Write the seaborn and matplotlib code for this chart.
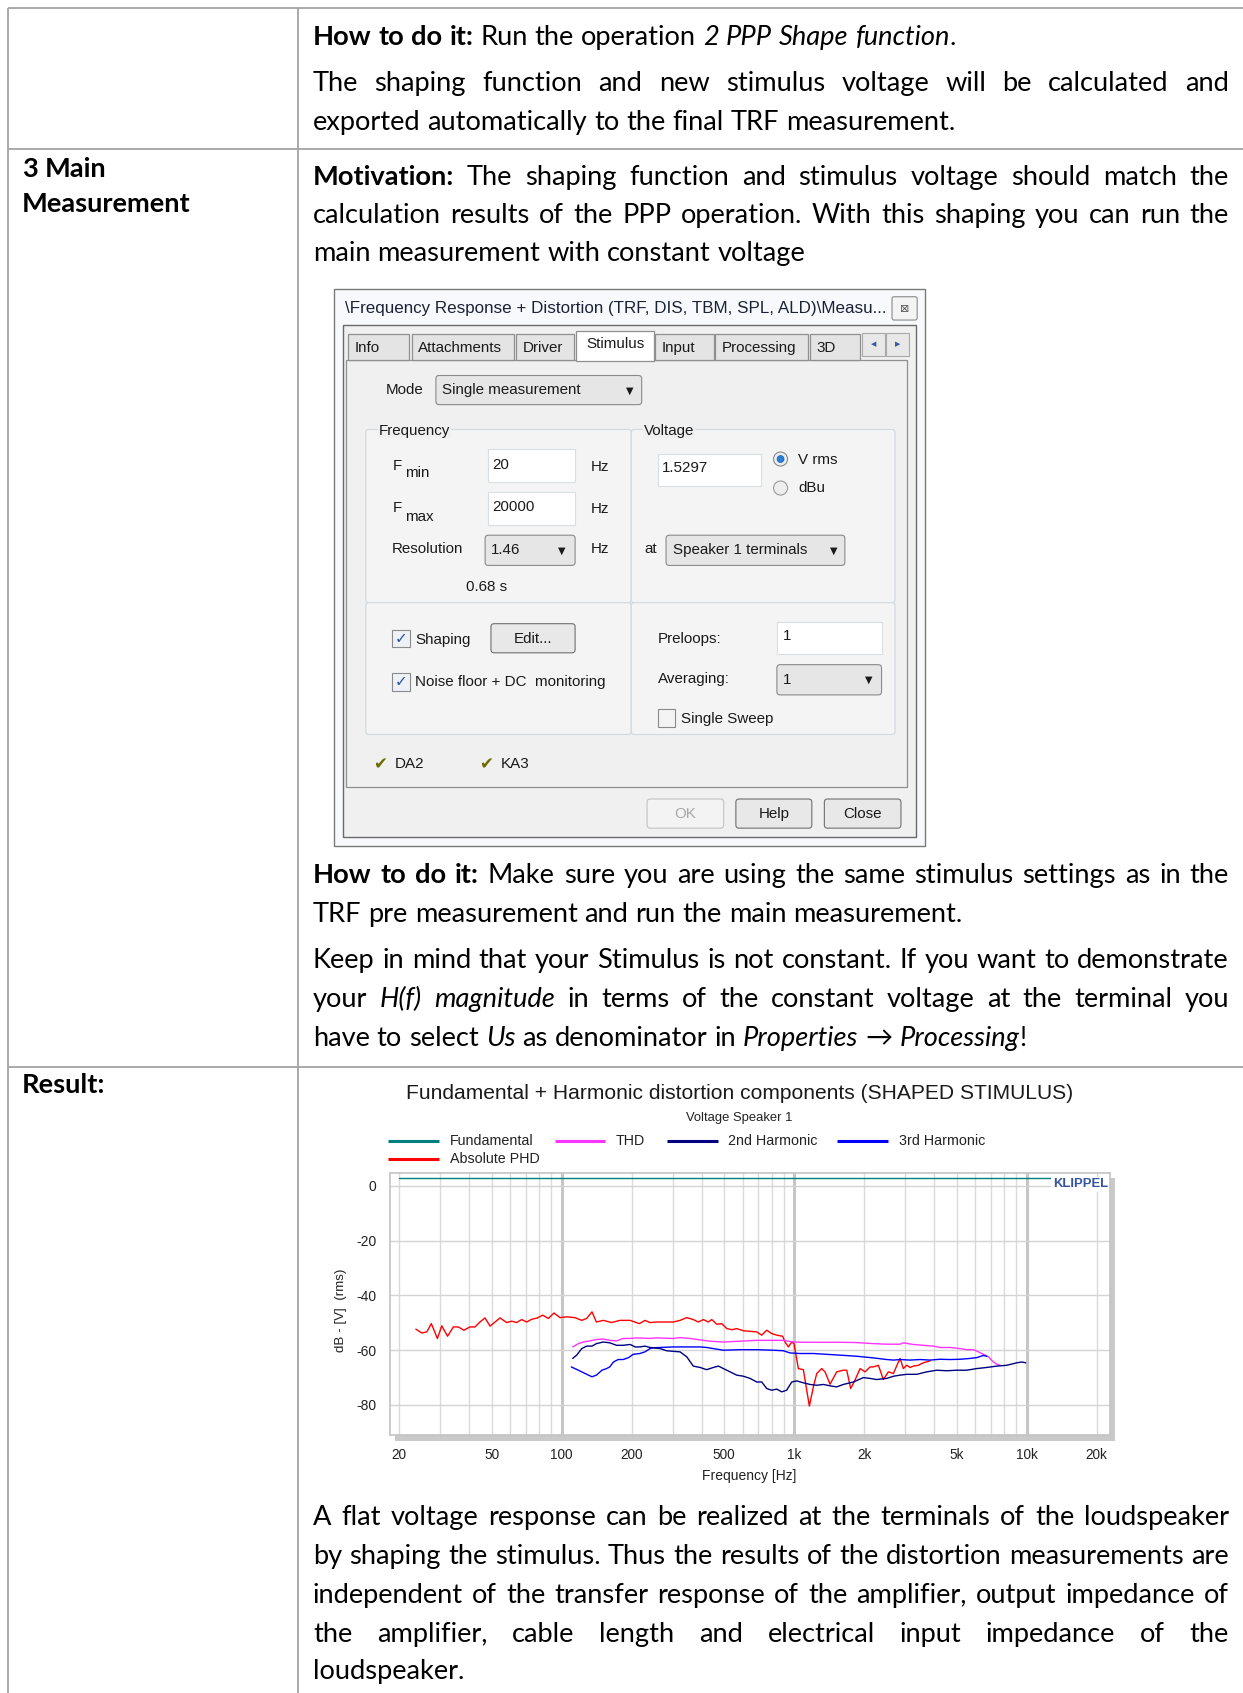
import matplotlib
matplotlib.use('Agg')
import matplotlib.pyplot as plt
import matplotlib.transforms as mtransforms
from matplotlib.patches import Rectangle, FancyBboxPatch, Circle
from matplotlib.ticker import FixedLocator, MultipleLocator, NullFormatter
import numpy as np
import pandas as pd
import seaborn as sns

sns.set_style('white')
plt.rcParams['font.family'] = ['Liberation Sans', 'DejaVu Sans']

# page is laid out in layout units (1152 x 1569), rendered at 1243 x 1693 px
PAGE_W, PAGE_H = 1152, 1569
SCALE = 1243 / PAGE_W

# ---------------- chart data ----------------
series_names = ['Fundamental', 'Absolute PHD', 'THD', '3rd Harmonic', '2nd Harmonic']
series_colors = ['#008080', '#ff0000', '#ff33ff', '#0000ff', '#000080']

fund_freq = [20, 20000]
fund_db = [2.8, 2.8]

phd_freq = [23.6, 25.0, 26.3, 27.5, 29.2, 30.5, 32.3, 34.2, 35.9, 38.0, 40.3, 42.4, 44.5,
            46.8, 49.2, 51.7, 54.3, 58.0, 61.0, 64.0, 67.3, 70.7, 74.3, 78.1, 82.9, 87.6,
            92.7, 98.4, 105, 114, 122, 128, 135, 141, 151, 164, 178, 197, 216, 228, 240,
            256, 283, 302, 323, 345, 368, 387, 407, 427, 442, 464, 488, 513, 539, 566, 605,
            646, 690, 725, 762, 800, 841, 892, 913, 944, 976, 998, 1042, 1095, 1132, 1162,
            1209, 1250, 1313, 1357, 1426, 1523, 1627, 1682, 1750, 1826, 1920, 2017, 2120,
            2190, 2301, 2418, 2541, 2670, 2806, 2853, 2948, 3047, 3149, 3254, 3420, 3594, 3839]
phd_db = [-52.3, -53.7, -53.3, -50.3, -55.7, -51.1, -54.9, -51.5, -51.5, -52.7, -51.5, -51.5, -49.7,
          -48.2, -51.2, -49.7, -48.2, -49.9, -49.4, -49.9, -48.8, -49.7, -48.7, -48.3, -47.2, -48.4,
          -46.4, -48.1, -47.8, -48.1, -49.1, -48.4, -46.0, -49.7, -49.1, -49.9, -49.1, -49.1, -50.3, -49.1, -49.9,
          -49.7, -49.7, -49.7, -49.1, -48.1, -48.8, -49.7, -48.8, -49.7, -48.8, -50.5, -50.3, -52.1, -52.5, -52.1, -52.9,
          -53.1, -53.3, -54.5, -52.7, -53.9, -54.5, -54.9, -57.0, -58.8, -57.0, -57.6, -66.7, -67.1, -74.6, -80.4,
          -73.4, -68.5, -66.7, -67.9, -72.4, -67.9, -67.3, -67.3, -74.0, -70.9, -66.7, -67.9, -66.1,
          -66.1, -65.5, -70.7, -67.9, -68.5, -64.3, -63.0, -66.7, -65.5, -66.3, -65.8, -65.5, -64.6, -63.9]

thd_freq = [111.5, 118, 124, 132, 141, 151, 161, 172, 184, 197, 210, 225, 240,
            256, 302, 323, 356, 407, 434, 496, 585, 690, 814, 898, 992, 1132, 1335, 1574, 1857,
            2190, 2500, 2853, 2948, 3254, 3594, 3967, 4239, 4680, 5168, 5520, 5898, 6197, 6511,
            6842, 7188, 7430, 7679]
thd_db = [-58.8, -57.6, -57.0, -56.6, -56.1, -55.9, -56.4, -56.6, -55.7, -55.7, -55.5, -55.6, -55.7,
          -55.5, -55.7, -55.4, -55.7, -56.4, -56.7, -57.0, -56.7, -56.4, -56.4, -56.4, -57.0, -57.1, -57.1, -57.1, -57.2,
          -57.6, -57.8, -57.8, -57.3, -57.9, -58.2, -58.5, -59.0, -59.0, -59.4, -59.8, -59.8, -60.6, -61.5,
          -62.4, -64.3, -65.1, -65.5]

h2_freq = [111.5, 116, 122, 128, 135, 141, 151, 161, 172, 184, 197, 207, 217, 228, 240,
           265, 283, 302, 323, 345, 368, 394, 420, 449, 472, 496, 530, 566, 605, 646, 690, 725,
           762, 800, 841, 884, 928, 976, 1025, 1095, 1170, 1250, 1335, 1426, 1523, 1627, 1797,
           1984, 2120, 2263, 2500, 2670, 2853, 3047, 3365, 3715, 4102, 4529, 5000, 5520, 6095,
           6730, 7430, 8203, 9057, 9517, 9901]
h2_db = [-63.0, -61.8, -59.4, -58.5, -58.5, -57.6, -57.0, -57.3, -58.2, -58.2, -57.9, -58.8, -58.8, -58.5, -59.0,
         -59.4, -60.2, -60.4, -60.6, -62.4, -65.8, -66.3, -67.1, -66.3, -65.8, -66.7, -67.9, -69.1, -69.5, -70.3, -71.6, -71.6,
         -74.0, -74.6, -74.2, -75.2, -74.6, -71.6, -71.2, -71.9, -72.5, -72.8, -72.5, -73.0, -73.4, -72.5, -71.6,
         -70.0, -70.3, -70.7, -70.3, -69.5, -69.1, -68.8, -68.8, -67.9, -67.3, -67.5, -67.3, -67.3, -66.7,
         -66.3, -65.8, -65.5, -64.6, -64.3, -64.6]

h3_freq = [110, 118, 126, 135, 141, 149, 156, 161, 167, 175, 184, 194, 203, 217, 228, 236, 240,
           248, 265, 302, 345, 394, 420, 449, 496, 585, 690, 814, 898, 960, 1060, 1209, 1380, 1574,
           1857, 2190, 2500, 2670, 2853, 3149, 3477, 3839, 4239, 4680, 5168, 5706, 6095, 6511, 6730]
h3_db = [-66.1, -67.3, -68.5, -69.7, -69.1, -67.3, -66.7, -66.1, -64.3, -63.4, -63.4, -62.7, -61.5, -61.2, -60.6, -59.8, -59.4,
         -59.1, -59.0, -58.8, -58.8, -58.8, -59.0, -59.4, -60.0, -59.8, -59.8, -60.0, -60.2, -61.0, -61.2, -61.2, -61.5, -61.8,
         -62.2, -62.8, -63.4, -63.6, -63.4, -63.6, -63.4, -63.6, -63.3, -63.4, -63.3, -63.0, -62.7, -61.9, -62.2]

xtick_vals = [20, 50, 100, 200, 500, 1000, 2000, 5000, 10000, 20000]
xtick_labels = ['20', '50', '100', '200', '500', '1k', '2k', '5k', '10k', '20k']
ytick_vals = [0, -20, -40, -60, -80]

chart_title = 'Fundamental + Harmonic distortion components (SHAPED STIMULUS)'
chart_subtitle = 'Voltage Speaker 1'

# ---------------- figure ----------------
fig = plt.figure(figsize=(12.43, 16.93), dpi=100)
ov = fig.add_axes([0, 0, 1, 1])
ov.set_xlim(0, PAGE_W)
ov.set_ylim(PAGE_H, 0)
ov.axis('off')
renderer = fig.canvas.get_renderer()


def frac(x0, y0, x1, y1):
    return [x0 / PAGE_W, 1 - y1 / PAGE_H, (x1 - x0) / PAGE_W, (y1 - y0) / PAGE_H]


def width_of(s, **kw):
    t = ov.text(0, 0, s, **kw)
    w = t.get_window_extent(renderer).width / SCALE
    t.remove()
    return w


def fit_size(s, target, **kw):
    return 10 * target / width_of(s, fontsize=10, **kw)


# ---------------- table grid ----------------
line_kw = dict(color='#a3a3a3', lw=1.3, solid_capstyle='butt')
ov.plot([7, PAGE_W], [7.7, 7.7], **line_kw)
ov.plot([7, PAGE_W], [138.4, 138.4], **line_kw)
ov.plot([7, PAGE_W], [989, 989], **line_kw)
ov.plot([7.3, 7.3], [7.7, PAGE_H], **line_kw)
ov.plot([276, 276], [7.7, PAGE_H], **line_kw)

# ---------------- body text ----------------
BODY_FAMILY = ['Lato', 'DejaVu Sans']
BODY_FS = fit_size('main measurement with constant voltage', 457.8, family=BODY_FAMILY)
BODY = {
    'n': dict(family=BODY_FAMILY, fontsize=BODY_FS),
    'b': dict(family=BODY_FAMILY, fontsize=BODY_FS, fontweight='bold'),
    'i': dict(family=BODY_FAMILY, fontsize=BODY_FS, fontstyle='italic'),
}
SPACE_W = width_of('a a', **BODY['n']) - width_of('aa', **BODY['n'])
TXT_L, TXT_R = 290, 1139


def put_line(y, parts, justify=False, x0=TXT_L, x1=TXT_R):
    groups = []
    prev_space = True
    for text, st in parts:
        words = text.split()
        for k, w in enumerate(words):
            if k == 0 and not text[0].isspace() and not prev_space and groups:
                groups[-1].append((w, st))
            else:
                groups.append([(w, st)])
        prev_space = text[-1].isspace()
    widths = [[width_of(w, **BODY[st]) for w, st in g] for g in groups]
    total = sum(sum(ws) for ws in widths)
    gap = (x1 - x0 - total) / (len(groups) - 1) if justify else SPACE_W
    x = x0
    for g, ws in zip(groups, widths):
        for (w, st), ww in zip(g, ws):
            ov.text(x, y, w, va='baseline', ha='left', color='black', **BODY[st])
            x += ww
        x += gap


put_line(41.4, [('How to do it:', 'b'), (' Run the operation ', 'n'),
                ('2 PPP Shape function', 'i'), ('.', 'n')])
put_line(84.6, [('The shaping function and new stimulus voltage will be calculated and', 'n')], True)
put_line(120.2, [('exported automatically to the final TRF measurement.', 'n')])

put_line(163.8, [('3 Main', 'b')], x0=20.4)
put_line(196.5, [('Measurement', 'b')], x0=20.4)
put_line(171.2, [('Motivation:', 'b'), (' The shaping function and stimulus voltage should match the', 'n')], True)
put_line(206.7, [('calculation results of the PPP operation. With this shaping you can run the', 'n')], True)
put_line(242.2, [('main measurement with constant voltage', 'n')])

put_line(818.4, [('How to do it:', 'b'), (' Make sure you are using the same stimulus settings as in the', 'n')], True)
put_line(854.4, [('TRF pre measurement and run the main measurement.', 'n')])
put_line(897.4, [('Keep in mind that your Stimulus is not constant. If you want to demonstrate', 'n')], True)
put_line(933.4, [('your ', 'n'), ('H(f) magnitude', 'i'),
                 (' in terms of the constant voltage at the terminal you', 'n')], True)
put_line(969.4, [('have to select ', 'n'), ('Us', 'i'), (' as denominator in ', 'n'), ('Properties', 'i'),
                 (' \u2192 ', 'n'), ('Processing', 'i'), ('!', 'n')])

put_line(1013.4, [('Result:', 'b')], x0=20.4)
put_line(1413.4, [('A flat voltage response can be realized at the terminals of the loudspeaker', 'n')], True)
put_line(1449.4, [('by shaping the stimulus. Thus the results of the distortion measurements are', 'n')], True)
put_line(1485.4, [('independent of the transfer response of the amplifier, output impedance of', 'n')], True)
put_line(1521.4, [('the amplifier, cable length and electrical input impedance of the', 'n')], True)
put_line(1556.4, [('loudspeaker.', 'n')])

# ---------------- dialog screenshot ----------------
DLG_FONT = ['Liberation Sans', 'DejaVu Sans']
DLG_FS = fit_size('Single measurement', 129, family=DLG_FONT)
TITLE_FS = fit_size('\\Frequency Response + Distortion (TRF, DIS, TBM, SPL, ALD)\\Measu...', 502, family=DLG_FONT)


def rect(x0, y0, x1, y1, fc='none', ec='#8a8a8a', lw=0.8, r=0, z=2):
    if r:
        p = FancyBboxPatch((x0, y0), x1 - x0, y1 - y0, boxstyle=f'round,pad=0,rounding_size={r}',
                           fc=fc, ec=ec, lw=lw, zorder=z)
    else:
        p = Rectangle((x0, y0), x1 - x0, y1 - y0, fc=fc, ec=ec, lw=lw, zorder=z)
    ov.add_patch(p)


def dtext(x, y, s, size=None, color='#1a1a1a', ha='left', family=DLG_FONT, **kw):
    ov.text(x, y, s, fontsize=size or DLG_FS, color=color, ha=ha, va='center',
            family=family, zorder=6, **kw)


rect(310, 268, 857, 784, fc='#f7f9fc', ec='#7a7a7a', lw=1.0, z=1)
rect(318, 301.6, 849, 775.7, fc='#f0f0f0', ec='#6a6a6a', lw=1.0, z=1)
dtext(320, 285.6, '\\Frequency Response + Distortion (TRF, DIS, TBM, SPL, ALD)\\Measu...',
      size=TITLE_FS, color='#1b2236')
rect(826.7, 275, 850, 296.6, fc='#f4f4f4', ec='#8a8a8a', r=2)
dtext(838.3, 286, '\u22a0', size=8, color='#555555', ha='center', family=['DejaVu Sans'])

# tab page and tabs
rect(321, 333.6, 841, 729, fc='#f0f0f0', ec='#8e8f8f', lw=0.9)
tab_labels = ['Info', 'Attachments', 'Driver', 'Stimulus', 'Input', 'Processing', '3D']
tab_edges = [322.9, 379.1, 381.5, 476.8, 478.5, 532.3, 533.4, 606.5, 607.5, 661.4, 663.1, 749, 750.7, 797]
tab_centers = [343.7, 429, 505.4, 570.1, 629.4, 706.9, 767.2]
for i, lab in enumerate(tab_labels):
    x0, x1 = tab_edges[2 * i], tab_edges[2 * i + 1]
    if lab == 'Stimulus':
        rect(x0, 306.4, x1, 334.4, fc='#ffffff', ec='#8e8f8f', lw=0.9, z=3)
        dtext(tab_centers[i], 319.2, lab, ha='center')
    else:
        rect(x0, 309.5, x1, 333.6, fc='#e4e4e4', ec='#8e8f8f', lw=0.9)
        dtext(x0 + 6, 322.3, lab)
rect(798.6, 308.6, 820, 330, fc='#e8e8e8', ec='#a9a9a9')
rect(821, 308.6, 842.5, 330, fc='#e8e8e8', ec='#a9a9a9')
dtext(809.3, 319.3, '\u25c0', size=5, color='#3a5a9a', ha='center', family=['DejaVu Sans'])
dtext(831.7, 319.3, '\u25b6', size=5, color='#3a5a9a', ha='center', family=['DejaVu Sans'])

# mode
dtext(357.7, 361.6, 'Mode')
rect(404, 348, 594.7, 375, fc='#e6e6e6', ec='#8a8a8a', r=3)
dtext(410, 361.6, 'Single measurement')
dtext(583.6, 362, '\u25bc', size=7, ha='center', family=['DejaVu Sans'])

# group boxes
for gx0, gy0, gx1, gy1 in [(339, 398, 585, 558.5), (585, 398, 829.5, 558.5),
                           (339, 558.5, 585, 680.7), (585, 558.5, 829.5, 680.7)]:
    rect(gx0, gy0, gx1, gy1, fc='#f4f4f4', ec='#d3dbe1', lw=0.9, r=3)
dtext(351.4, 399, 'Frequency', bbox=dict(fc='#f0f0f0', ec='none', pad=0.5))
dtext(596.4, 399, 'Voltage', bbox=dict(fc='#f0f0f0', ec='none', pad=0.5))

# frequency fields
dtext(364, 431.8, 'F')
dtext(375.7, 438.8, 'min')
rect(452, 416, 533, 447, fc='white', ec='#d9dee3')
dtext(456.6, 430.9, '20')
dtext(547.6, 432.4, 'Hz')
dtext(364, 470.8, 'F')
dtext(375.7, 478.7, 'max')
rect(452, 456, 533, 486.6, fc='white', ec='#d9dee3')
dtext(456.6, 470, '20000')
dtext(547.6, 471.4, 'Hz')
dtext(363.3, 509, 'Resolution')
rect(449.6, 496, 533, 524, fc='#e6e6e6', ec='#8a8a8a', r=3)
dtext(454.9, 510, '1.46')
dtext(521, 510, '\u25bc', size=7, ha='center', family=['DejaVu Sans'])
dtext(547.6, 508.6, 'Hz')
dtext(451, 544, '0.68 s', ha='center')

# voltage fields
rect(610, 420.8, 705, 450, fc='white', ec='#d9dee3')
dtext(613.3, 434, '1.5297')
ov.add_patch(Circle((723.4, 425.4), 6.5, fc='#e6edf5', ec='#8a8a8a', lw=0.8, zorder=3))
ov.add_patch(Circle((723.4, 425.4), 3.2, fc='#2a7fd4', ec='#1d5c9e', lw=0.5, zorder=4))
dtext(740, 426, 'V rms')
ov.add_patch(Circle((723.4, 452.3), 6.5, fc='#eeeeee', ec='#9a9a9a', lw=0.8, zorder=3))
dtext(740, 452.3, 'dBu')
dtext(597.4, 509, 'at')
rect(617.3, 496, 783, 524, fc='#e6e6e6', ec='#8a8a8a', r=3)
dtext(623.4, 509.5, 'Speaker 1 terminals')
dtext(772.3, 510, '\u25bc', size=7, ha='center', family=['DejaVu Sans'])

# lower groups
rect(363, 584, 380, 600, fc='#eef2f7', ec='#8a8a8a', z=3)
dtext(371.5, 592, '\u2713', size=DLG_FS, color='#2d4f9e', ha='center', family=['DejaVu Sans'], fontweight='bold')
dtext(385, 593, 'Shaping')
rect(455, 578, 533, 605, fc='#e8e8e8', ec='#707070', r=3)
dtext(494, 592, 'Edit...', ha='center')
rect(363, 624, 380, 640, fc='#eef2f7', ec='#8a8a8a', z=3)
dtext(371.5, 632, '\u2713', size=DLG_FS, color='#2d4f9e', ha='center', family=['DejaVu Sans'], fontweight='bold')
dtext(385, 632, 'Noise floor + DC  monitoring')
dtext(610, 592, 'Preloops:')
rect(720, 576.6, 817, 606, fc='white', ec='#d9dee3')
dtext(725.4, 589.4, '1')
dtext(610, 629.7, 'Averaging:')
rect(720, 616, 817, 644, fc='#e6e6e6', ec='#8a8a8a', r=3)
dtext(725.4, 630, '1')
dtext(805, 630, '\u25bc', size=7, ha='center', family=['DejaVu Sans'])
rect(610, 657, 626, 674, fc='#f4f4f4', ec='#8a8a8a', z=3)
dtext(631, 666.4, 'Single Sweep')

# status + buttons
dtext(352, 708.5, '\u2714', size=12, color='#6b6b00', ha='center', family=['DejaVu Sans'])
dtext(366, 708.5, 'DA2')
dtext(450.3, 708.5, '\u2714', size=12, color='#6b6b00', ha='center', family=['DejaVu Sans'])
dtext(464, 708.5, 'KA3')
rect(599.7, 740.5, 670.7, 767.5, fc='#f3f3f3', ec='#c2c2c2', r=3)
dtext(635.2, 754, 'OK', ha='center', color='#a8a8a8')
rect(682, 740.5, 752.4, 767.5, fc='#e8e8e8', ec='#707070', r=3)
dtext(717.2, 754, 'Help', ha='center')
rect(764, 740.5, 835, 767.5, fc='#e8e8e8', ec='#707070', r=3)
dtext(799.5, 754, 'Close', ha='center')

# ---------------- chart ----------------
CHART_FONT = ['Liberation Sans', 'DejaVu Sans']
palette = dict(zip(series_names, series_colors))
all_freq = [fund_freq, phd_freq, thd_freq, h3_freq, h2_freq]
all_db = [fund_db, phd_db, thd_db, h3_db, h2_db]
df = pd.concat([pd.DataFrame({'freq': f, 'db': d, 'series': n})
                for f, d, n in zip(all_freq, all_db, series_names)], ignore_index=True)

# drop shadow of the plot frame
rect(361.1 + 5, 1087 + 5, 1028.7 + 5, 1330 + 5, fc='#c9c9c9', ec='none', z=1)

ax = fig.add_axes(frac(361.1, 1087, 1028.7, 1330))
ax.set_facecolor('white')
ax.set_xscale('log')
ax.set_xlim(18.2, 22800)
ax.set_ylim(-91, 4.75)

grid_freqs = [m * 10 ** e for e in range(1, 5) for m in range(1, 10)]
for f in grid_freqs:
    if 18.2 < f < 22800:
        decade = f in (100, 1000, 10000)
        ax.axvline(f, color='#c6c6c6' if decade else '#dadada', lw=2.2 if decade else 1.0, zorder=0)
for yv in ytick_vals:
    ax.axhline(yv, color='#d4d4d4', lw=1.0, zorder=0)

sns.lineplot(data=df, x='freq', y='db', hue='series', hue_order=series_names, palette=palette,
             estimator=None, sort=False, legend=False, linewidth=1.0, ax=ax)
ax.set_xscale('log')
ax.set_xlim(18.2, 22800)
ax.set_ylim(-91, 4.75)
ax.set_xlabel('')
ax.set_ylabel('')

ax.xaxis.set_major_locator(FixedLocator(xtick_vals))
ax.set_xticklabels(xtick_labels)
ax.xaxis.set_minor_locator(FixedLocator([]))
ax.xaxis.set_minor_formatter(NullFormatter())
ax.tick_params(axis='x', which='both', length=0, pad=9, labelsize=9.8, labelcolor='#222222')
for lab in ax.get_xticklabels():
    lab.set_family(CHART_FONT)

ax.set_yticks(ytick_vals)
ax.set_yticklabels([str(v) for v in ytick_vals])
ax.yaxis.set_minor_locator(MultipleLocator(5))
ax.tick_params(axis='y', which='major', direction='out', length=5.7, width=1, color='#c4c4c4',
               pad=3.7, labelsize=10, labelcolor='#222222')
ax.tick_params(axis='y', which='minor', direction='in', length=5.7, width=1, color='#c4c4c4')
for lab in ax.get_yticklabels():
    lab.set_family(CHART_FONT)

for sp in ax.spines.values():
    sp.set_color('#c4c4c4')
    sp.set_linewidth(1.2)
    sp.set_visible(True)

ktrans = mtransforms.blended_transform_factory(ax.transAxes, ax.transData)
ax.text(0.997, 0.6, 'KLIPPEL', transform=ktrans, ha='right', va='center', fontsize=9.4,
        fontweight='bold', color='#3553a3', family=CHART_FONT,
        bbox=dict(fc='white', ec='none', pad=1.0), zorder=5)

# title, subtitle, legend, axis labels
TITLE_SIZE = fit_size(chart_title, 617, family=CHART_FONT)
ov.text(685.5, 1013, chart_title, ha='center', va='center', fontsize=TITLE_SIZE,
        family=CHART_FONT, color='#1a1a1a')
ov.text(685, 1036, chart_subtitle, ha='center', va='center', fontsize=9.4,
        family=CHART_FONT, color='#222222')

legend_rows = [1057, 1057, 1057, 1057, 1074]
legend_x = [360, 514, 618, 776, 360]
legend_order = ['Fundamental', 'THD', '2nd Harmonic', '3rd Harmonic', 'Absolute PHD']
for name, lx, ly in zip(legend_order, legend_x, legend_rows):
    ov.plot([lx, lx + 47], [ly, ly], color=palette[name], lw=2.2, solid_capstyle='butt')
    ov.text(lx + 57, ly, name, ha='left', va='center', fontsize=10.3, family=CHART_FONT, color='#222222')

ov.text(316, 1214, 'dB - [V]  (rms)', rotation=90, ha='center', va='center', fontsize=9.6,
        family=CHART_FONT, color='#222222')
ov.text(694, 1368, 'Frequency [Hz]', ha='center', va='center', fontsize=10,
        family=CHART_FONT, color='#222222')

fig.savefig('out.png', dpi=100)
